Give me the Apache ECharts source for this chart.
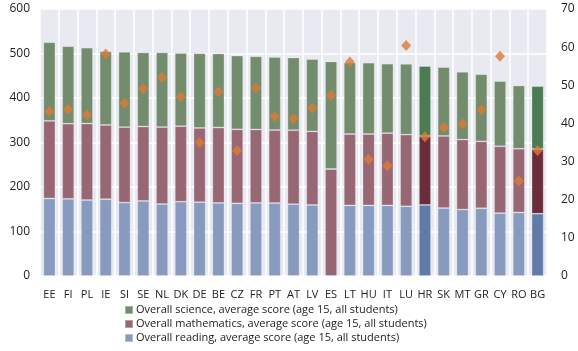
<!DOCTYPE html>
<html><head><meta charset="utf-8">
<script src="https://cdn.jsdelivr.net/npm/echarts@6/dist/echarts.min.js"></script>
<style>html,body{margin:0;padding:0;background:#fff}#c{width:578px;height:351px}</style>
</head><body><div id="c"></div>
<script>
const categories = ['EE','FI','PL','IE','SI','SE','NL','DK','DE','BE','CZ','FR','PT','AT','LV','ES','LT','HU','IT','LU','HR','SK','MT','GR','CY','RO','BG'];
const reading = [174.3,173.3,170.7,172.7,165,168.7,161.7,167,166,164.3,163.3,164.3,164,161.3,159.7,0,158.7,158.7,158.7,156.7,159.7,152.7,149.3,152.3,141.3,142.7,140];
const mathematics = [174.3,169,172,166.7,169.7,167.3,173,169.7,166.7,169.3,166.3,165,164,166.3,165.3,240.5,160.3,160.3,162.3,161,154.7,162,157.3,150.3,150.3,143.3,145.3];
const science = [176.7,174,170.3,165.3,169,166.3,167.7,164.3,167.7,166.3,165.7,164.3,164,163.3,162.3,241.5,160.7,160.3,156,159,157.3,154.7,152.3,150.7,146.3,142,141.3];
const rightValues = [43.1,43.7,42.3,58.2,45.3,49.1,52.1,47.0,35.0,48.3,32.9,49.3,41.8,41.2,44.0,47.3,56.1,30.6,28.9,60.4,36.5,38.9,39.9,43.6,57.6,24.9,32.9];
const highlighted = ['HR','BG'];
const leftTicks = [0,100,200,300,400,500,600];
const rightTicks = [0,10,20,30,40,50,60,70];

const names = {
  sci: 'Overall science, average score (age 15, all students)',
  math: 'Overall mathematics, average score (age 15, all students)',
  read: 'Overall reading, average score (age 15, all students)'
};
const colors = {
  sci: ['#728c6d', '#4a7b51'],
  math: ['#976873', '#6b2c3c'],
  read: ['#889bbe', '#5f7ba7']
};
function mk(arr, key) {
  return arr.map((v, i) => ({
    value: v,
    itemStyle: { color: highlighted.includes(categories[i]) ? colors[key][1] : colors[key][0] }
  }));
}
const font = 'Open Sans, Liberation Sans, sans-serif';
const chart = echarts.init(document.getElementById('c'), null, {renderer: 'canvas'});
const barBase = {
  type: 'bar', stack: 'total', barCategoryGap: '36%',
  emphasis: {disabled: true},
  itemStyle: { borderColor: 'rgba(255,255,255,0.35)', borderWidth: 0.8 }
};
chart.setOption({
  animation: false,
  textStyle: { fontFamily: font },
  grid: { left: 40, right: 31, top: 9, bottom: 75, show: true, backgroundColor: '#e8e9f1', borderWidth: 0 },
  legend: {
    orient: 'vertical', left: 124, top: 304, height: 48, itemWidth: 8, itemHeight: 8, itemGap: 2,
    padding: 0, icon: 'rect',
    textStyle: { fontSize: 11, lineHeight: 12, color: '#222', fontFamily: font, padding: [0,0,0,-2] },
    data: [
      {name: names.sci, itemStyle: {color: colors.sci[0]}},
      {name: names.math, itemStyle: {color: colors.math[0]}},
      {name: names.read, itemStyle: {color: colors.read[0]}}
    ]
  },
  xAxis: {
    type: 'category', data: categories,
    axisLine: {show: false}, axisTick: {show: false},
    axisLabel: { fontSize: 11, color: '#222', margin: 13, interval: 0 },
    splitLine: { show: true, interval: 0, lineStyle: { color: '#ffffff', width: 1.5 } }
  },
  yAxis: [
    { type: 'value', min: leftTicks[0], max: leftTicks[leftTicks.length-1], interval: 100,
      axisLabel: { fontSize: 12, color: '#222', margin: 10 },
      splitLine: { lineStyle: { color: '#ffffff', width: 1.5 } },
      axisLine: {show: false}, axisTick: {show: false} },
    { type: 'value', min: rightTicks[0], max: rightTicks[rightTicks.length-1], interval: 10,
      axisLabel: { fontSize: 12, color: '#222', margin: 14 },
      splitLine: { show: false }, axisLine: {show: false}, axisTick: {show: false} }
  ],
  series: [
    Object.assign({}, barBase, { name: names.read, data: mk(reading, 'read'), z: 2 }),
    Object.assign({}, barBase, { name: names.math, data: mk(mathematics, 'math'), z: 2 }),
    Object.assign({}, barBase, { name: names.sci, data: mk(science, 'sci'), z: 2 }),
    { type: 'scatter', name: 'right', yAxisIndex: 1, data: rightValues, symbol: 'diamond', symbolSize: [10, 11],
      itemStyle: { color: '#dd7a35' }, z: 5, emphasis: {disabled: true} }
  ]
});
</script></body></html>
